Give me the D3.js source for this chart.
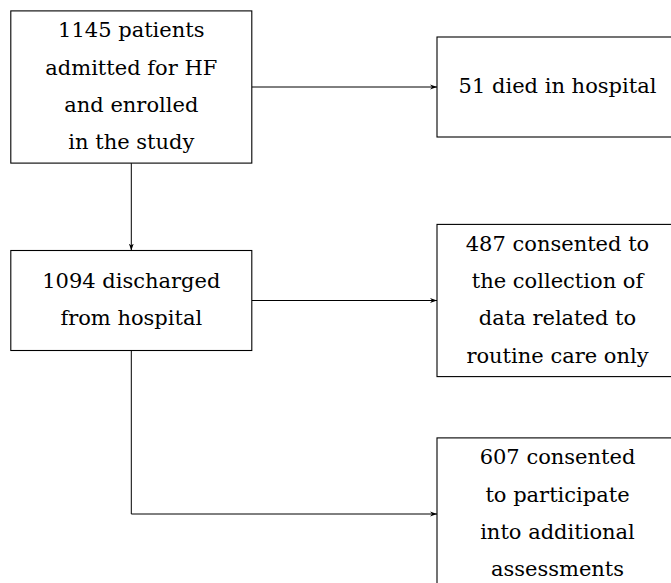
<!DOCTYPE html>
<html>
<head>
<meta charset="utf-8">
<script src="https://cdn.jsdelivr.net/npm/d3@7"></script>
<style>
  html, body { margin: 0; padding: 0; background: #fff; overflow: hidden; }
  svg { display: block; }
  text { font-family: "DejaVu Serif", "Liberation Serif", serif; fill: #000; }
</style>
</head>
<body>
<svg id="chart" width="671" height="583"></svg>
<script>
// ---- data ----
const nodeIds = ["admitted", "died", "discharged", "routine", "additional"];
const nodeLabels = [
  ["1145 patients", "admitted for HF", "and enrolled", "in the study"],
  ["51 died in hospital"],
  ["1094 discharged", "from hospital"],
  ["487 consented to", "the collection of", "data related to", "routine care only"],
  ["607 consented", "to participate", "into additional", "assessments"]
];
const nodeColumns = [0, 1, 0, 1, 1];
const nodeRows = [0, 0, 1, 1, 2];
const linkSources = ["admitted", "admitted", "discharged", "discharged"];
const linkTargets = ["died", "discharged", "routine", "additional"];

// ---- layout ----
const svg = d3.select("#chart");
const boxW = 241;
const lineH = 37.3;
const minH = 100;
const fontSize = 21;

const x = d3.scaleLinear().domain([0, 1]).range([131.3, 557.5]); // column centres
const y = d3.scaleLinear().domain([0, 2]).range([87, 514]);     // row centres

const nodes = nodeIds.map((id, i) => {
  const lines = nodeLabels[i];
  const h = Math.max(minH, lines.length * lineH + 3);
  const cx = x(nodeColumns[i]), cy = y(nodeRows[i]);
  return { id, lines, cx, cy, w: boxW, h,
           x0: cx - boxW / 2, x1: cx + boxW / 2, y0: cy - h / 2, y1: cy + h / 2 };
});
const byId = Object.fromEntries(nodes.map(n => [n.id, n]));

// arrow marker
svg.append("defs").append("marker")
  .attr("id", "arrow")
  .attr("viewBox", "0 0 10 10")
  .attr("refX", 10).attr("refY", 5)
  .attr("markerWidth", 7).attr("markerHeight", 7)
  .attr("markerUnits", "userSpaceOnUse")
  .attr("orient", "auto")
  .append("path")
  .attr("d", "M0,1.5 L10,5 L0,8.5 L3,5 Z")
  .attr("fill", "#000");

// links
const links = linkSources.map((s, i) => ({ s: byId[s], t: byId[linkTargets[i]] }));
const linkPath = l => {
  const s = l.s, t = l.t;
  if (s.cx === t.cx) return d3.line()([[s.cx, s.y1], [t.cx, t.y0]]);
  if (Math.abs(s.cy - t.cy) < 1) return d3.line()([[s.x1, s.cy], [t.x0, t.cy]]);
  return d3.line()([[s.cx, s.y1], [s.cx, t.cy], [t.x0, t.cy]]);
};

svg.append("g")
  .selectAll("path")
  .data(links)
  .join("path")
  .attr("d", linkPath)
  .attr("fill", "none")
  .attr("stroke", "#000")
  .attr("stroke-width", 1)
  .attr("marker-end", "url(#arrow)");

// boxes
const g = svg.append("g")
  .selectAll("g")
  .data(nodes)
  .join("g");

g.append("rect")
  .attr("x", d => d.x0)
  .attr("y", d => d.y0)
  .attr("width", d => d.w)
  .attr("height", d => d.h)
  .attr("fill", "#fff")
  .attr("stroke", "#000")
  .attr("stroke-width", 1.1);

g.append("text")
  .attr("text-anchor", "middle")
  .attr("font-size", fontSize)
  .selectAll("tspan")
  .data(d => d.lines.map((t, i) => ({ t, i, n: d.lines.length, cx: d.cx, cy: d.cy })))
  .join("tspan")
  .attr("x", d => d.cx)
  .attr("y", d => d.cy + (d.i - (d.n - 1) / 2) * lineH - 1.4)
  .attr("dy", "0.3645em")
  .text(d => d.t);
</script>
</body>
</html>
